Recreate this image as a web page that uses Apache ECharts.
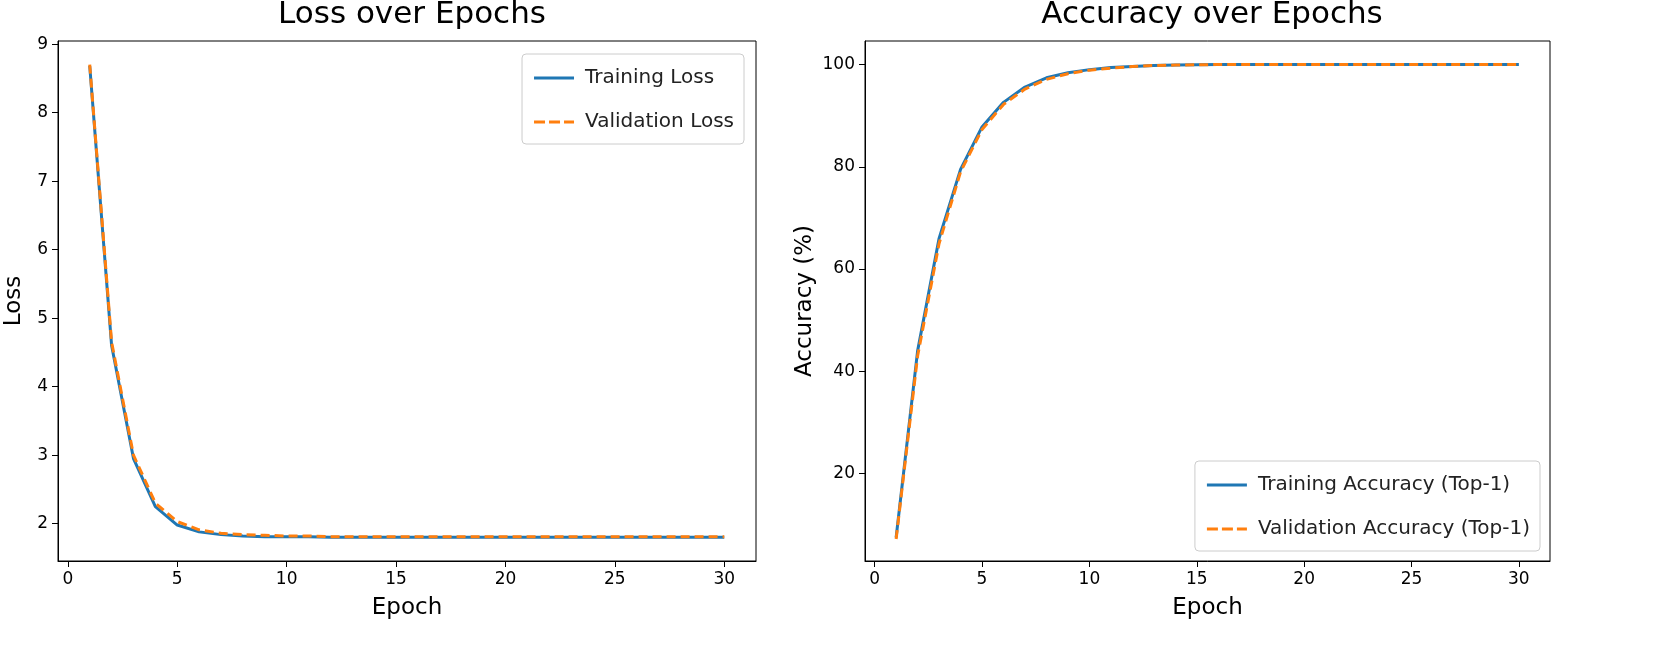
<!DOCTYPE html><html><head><meta charset="utf-8"><script src="https://cdn.jsdelivr.net/npm/echarts@6/dist/echarts.min.js"></script>
<style>html,body{margin:0;background:#fff}#c{width:1654px;height:664px}</style></head><body><div id="c"></div><script>
const epochs=[];for(let i=1;i<=30;i++)epochs.push(i);
const trainLoss=[8.68,4.6,2.95,2.25,1.98,1.88,1.84,1.82,1.81,1.81,1.81,1.80,1.80,1.80,1.80,1.80,1.80,1.80,1.80,1.80,1.80,1.80,1.80,1.80,1.80,1.80,1.80,1.80,1.80,1.80];
const valLoss=[8.7,4.65,3.0,2.3,2.03,1.91,1.86,1.84,1.83,1.82,1.82,1.81,1.81,1.81,1.81,1.81,1.81,1.81,1.81,1.81,1.81,1.81,1.81,1.81,1.81,1.81,1.81,1.81,1.81,1.81];
const trainAcc=[7.5,44,66,79.5,87.8,92.6,95.6,97.4,98.4,99.0,99.4,99.6,99.8,99.9,99.95,100,100,100,100,100,100,100,100,100,100,100,100,100,100,100];
const valAcc=[7.2,43,65,79,87.3,92.2,95.2,97.1,98.2,98.9,99.3,99.6,99.8,99.9,99.95,100,100,100,100,100,100,100,100,100,100,100,100,100,100,100];
const xTicks=[0,5,10,15,20,25,30];
const pair=a=>a.map((v,i)=>[epochs[i],v]);
const F='DejaVu Sans';
const SOLID='path://M0 0H40V3H0Z', DASH='path://M0 0H11V3H0ZM15 0H26V3H15ZM30 0H40V3H30Z';
const xA=(gi)=>({type:'value',gridIndex:gi,min:-0.45,max:31.45,name:'Epoch',nameLocation:'middle',nameGap:36,nameTextStyle:{fontSize:23,fontFamily:F,color:'#000'},
 axisLabel:{fontSize:17,fontFamily:F,color:'#000',margin:10,customValues:xTicks},axisTick:{customValues:xTicks,length:6,lineStyle:{color:'#000'}},axisLine:{onZero:false,lineStyle:{color:'#000'}},splitLine:{show:false}});
const yA=(gi,min,max,iv,name,gap)=>({type:'value',gridIndex:gi,min,max,name,nameLocation:'middle',nameGap:gap,nameTextStyle:{fontSize:23,fontFamily:F,color:'#000'},
 axisLabel:{fontSize:17,fontFamily:F,color:'#000',margin:10,customValues:iv},axisTick:{show:true,customValues:iv,length:6,lineStyle:{color:'#000'}},axisLine:{show:true,onZero:false,lineStyle:{color:'#000'}},splitLine:{show:false}});
const ln=(name,d,xi,dash)=>({type:'line',name,data:pair(d),xAxisIndex:xi,yAxisIndex:xi,symbol:'none',z:dash?3:2,
 lineStyle:{width:3,color:dash?'#ff7f0e':'#1f77b4',type:dash?[9,5]:'solid'},itemStyle:{color:dash?'#ff7f0e':'#1f77b4'}});
const lg=(n1,n2,pos)=>Object.assign({data:[{name:n1,icon:SOLID},{name:n2,icon:DASH}],orient:'vertical',itemWidth:40,itemHeight:3,itemGap:24,padding:[14,10,12,12],borderColor:'#ccc',borderWidth:1,borderRadius:4,textStyle:{fontSize:20,fontFamily:F,color:'#222',padding:[0,0,0,6]}},pos);
const chart=echarts.init(document.getElementById('c'));
chart.setOption({animation:false,
 title:[{text:'Loss over Epochs',left:407,top:-6,textAlign:'center',textStyle:{fontSize:31,fontWeight:'normal',fontFamily:F,color:'#000'}},
  {text:'Accuracy over Epochs',left:1207,top:-6,textAlign:'center',textStyle:{fontSize:31,fontWeight:'normal',fontFamily:F,color:'#000'}}],
 grid:[{left:58,right:898,top:41,bottom:103,show:true,borderColor:'#000',borderWidth:1},{left:865,right:104,top:41,bottom:103,show:true,borderColor:'#000',borderWidth:1}],
 xAxis:[xA(0),xA(1)],
 yAxis:[yA(0,1.455,9.045,[2,3,4,5,6,7,8,9],'Loss',32),yA(1,2.9,104.6,[20,40,60,80,100],'Accuracy (%)',48)],
 legend:[lg('Training Loss','Validation Loss',{right:910,top:54}),lg('Training Accuracy (Top-1)','Validation Accuracy (Top-1)',{right:114,top:461})],
 series:[ln('Training Loss',trainLoss,0,false),ln('Validation Loss',valLoss,0,true),ln('Training Accuracy (Top-1)',trainAcc,1,false),ln('Validation Accuracy (Top-1)',valAcc,1,true)]
});
</script></body></html>
